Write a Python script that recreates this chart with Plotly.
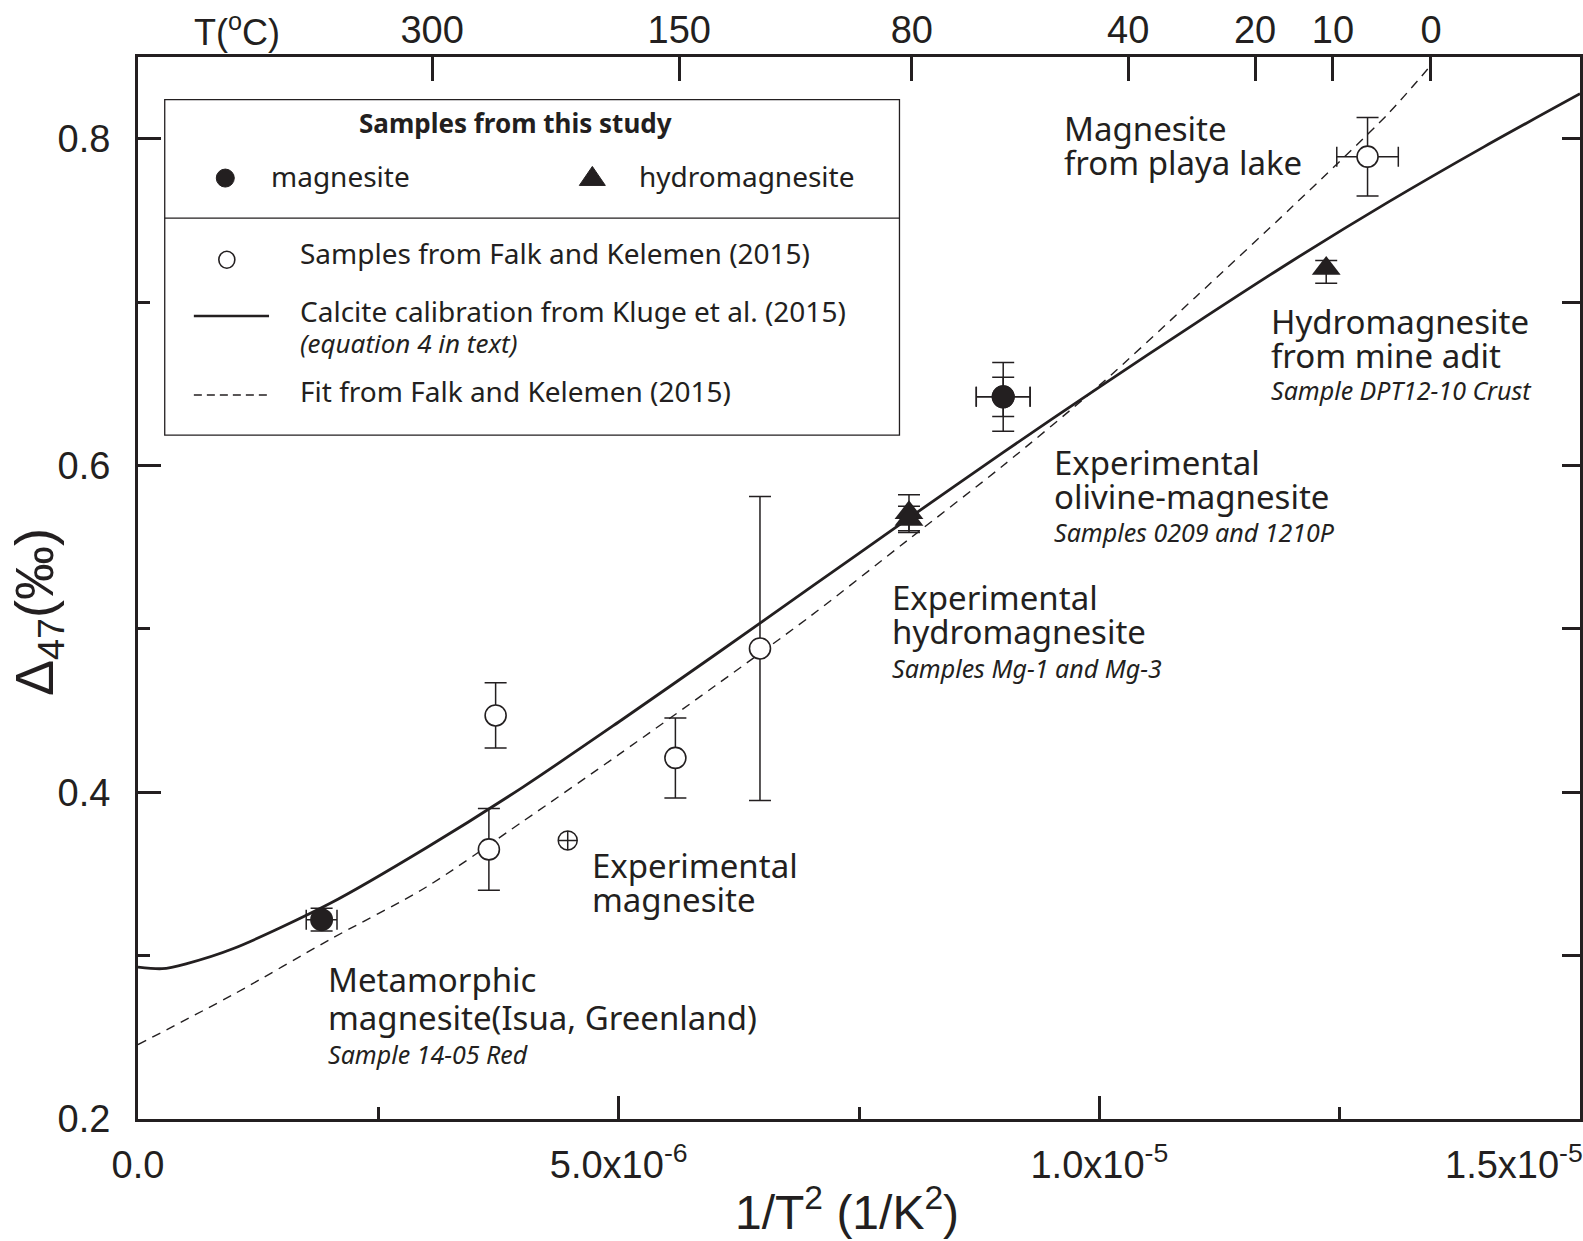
import plotly.graph_objects as go

# ---------------- data (x in 1/K^2, y = Delta47 in permil) ----------------
# Calcite calibration, Kluge et al. (2015) - solid curve
kluge_x = [0, 0.25e-6, 0.5e-6, 1e-6, 2e-6, 3e-6, 4e-6, 5e-6, 6e-6, 7e-6, 8e-6,
           9e-6, 10e-6, 11e-6, 12e-6, 13e-6, 14e-6, 15e-6]
kluge_y = [0.293, 0.292, 0.295, 0.3045, 0.332, 0.366, 0.403, 0.443, 0.484, 0.5255,
           0.567, 0.608, 0.648, 0.687, 0.725, 0.761, 0.795, 0.8275]

# Fit from Falk and Kelemen (2015) - dashed curve
falk_fit_x = [0, 1e-6, 2e-6, 3e-6, 4e-6, 5e-6, 6e-6, 7e-6, 8e-6, 9e-6, 10e-6,
              11e-6, 12e-6, 13e-6, 13.45e-6]
falk_fit_y = [0.2455, 0.2765, 0.310, 0.342, 0.382, 0.423, 0.465, 0.508, 0.554,
              0.600, 0.649, 0.703, 0.758, 0.815, 0.845]

# Samples from Falk and Kelemen (2015) - open circles
falk_x = [3.72e-6, 3.65e-6, 5.59e-6, 6.47e-6, 12.79e-6]
falk_y = [0.447, 0.365, 0.421, 0.488, 0.789]
falk_yerr = [0.020, 0.025, 0.0245, 0.093, 0.024]
falk_xerr = [None, None, None, None, 0.32e-6]

# Experimental magnesite (crossed circle)
expmag_x = [4.47e-6]
expmag_y = [0.3705]

# This study: magnesite (filled circles)
mag_x = [1.91e-6, 9.00e-6, 9.00e-6]
mag_y = [0.322, 0.642, 0.642]
mag_yerr = [0.007, 0.021, 0.012]
mag_xerr = [0.16e-6, 0.28e-6, 0.28e-6]

# This study: hydromagnesite (filled triangles)
hmg_x = [8.02e-6, 8.02e-6, 12.36e-6]
hmg_y = [0.571, 0.567, 0.7205]
hmg_yerr_plus = [0.011, 0.008, 0.005]
hmg_yerr_minus = [0.011, 0.008, 0.009]

# Axis ticks (last bottom label is drawn right-aligned at the frame edge)
bottom_tickvals = [0, 5e-6, 1e-5, 1.5e-5]
bottom_ticktext = ["0.0", "5.0x10<sup>-6</sup>", "1.0x10<sup>-5</sup>", ""]
bottom_last_label = "1.5x10<sup>-5</sup>"
bottom_minor = [2.5e-6, 7.5e-6, 12.5e-6]
left_tickvals = [0.2, 0.4, 0.6, 0.8]
left_ticktext = ["0.2", "0.4", "0.6", "0.8"]
left_minor = [0.3, 0.5, 0.7]
right_tickvals = [0.3, 0.4, 0.5, 0.6, 0.7, 0.8]
top_labels = ["300", "150", "80", "40", "20", "10", "0"]
top_tickvals = [3.06e-6, 5.63e-6, 8.05e-6, 10.30e-6, 11.62e-6, 12.43e-6, 13.45e-6]

# ---------------- styles ----------------
INK = "#231f20"
TICKFONT = dict(family="Liberation Sans, Arial, sans-serif", size=38, color=INK)
TXT = "Noto Sans, Open Sans, sans-serif"
XR = [0, 1.5e-5]
YR = [0.2, 0.85]

fig = go.Figure()

fig.add_trace(go.Scatter(x=kluge_x, y=kluge_y, mode="lines",
                         line=dict(color=INK, width=2.8, shape="spline", smoothing=0.8),
                         hoverinfo="skip"))
fig.add_trace(go.Scatter(x=falk_fit_x, y=falk_fit_y, mode="lines",
                         line=dict(color=INK, width=1.4, dash="9px,7px", shape="spline",
                                   smoothing=0.8),
                         hoverinfo="skip"))

eb = dict(color=INK, thickness=1.5)
fig.add_trace(go.Scatter(
    x=falk_x, y=falk_y, mode="markers",
    marker=dict(symbol="circle", size=21, color="white", line=dict(color=INK, width=1.6)),
    error_y=dict(type="data", array=falk_yerr, width=11, **eb),
    error_x=dict(type="data", array=falk_xerr, width=10, **eb)))
fig.add_trace(go.Scatter(
    x=expmag_x, y=expmag_y, mode="markers",
    marker=dict(symbol="circle-cross-open", size=19, color=INK, line=dict(color=INK, width=1.5))))
fig.add_trace(go.Scatter(
    x=mag_x, y=mag_y, mode="markers",
    marker=dict(symbol="circle", size=23, color=INK),
    error_y=dict(type="data", array=mag_yerr, width=11, **eb),
    error_x=dict(type="data", array=mag_xerr, width=10, **eb)))
fig.add_trace(go.Scatter(
    x=hmg_x, y=hmg_y, mode="markers",
    marker=dict(symbol="triangle-up", size=25, color=INK),
    error_y=dict(type="data", array=hmg_yerr_plus, arrayminus=hmg_yerr_minus, width=11, **eb)))
# helper trace for secondary (top/right) axes
fig.add_trace(go.Scatter(x=[], y=[], xaxis="x2", yaxis="y2", hoverinfo="skip"))

# ---------------- annotations ----------------
ann = []


def label(x, y, text, size=33, xanchor="left", xref="x", yref="y", font=TXT, angle=0):
    ann.append(dict(x=x, y=y, xref=xref, yref=yref, text=text, showarrow=False,
                    xanchor=xanchor, yanchor="middle", textangle=angle,
                    font=dict(family=font, size=size, color=INK)))


label(9.61e-6, 0.8061, "Magnesite")
label(9.61e-6, 0.7856, "from playa lake")
label(11.77e-6, 0.6879, "Hydromagnesite")
label(11.77e-6, 0.6670, "from mine adit")
label(11.77e-6, 0.6462, "<i>Sample DPT12-10 Crust</i>", size=25)
label(9.51e-6, 0.6021, "Experimental")
label(9.51e-6, 0.5813, "olivine-magnesite")
label(9.51e-6, 0.5592, "<i>Samples 0209 and 1210P</i>", size=25)
label(7.82e-6, 0.5194, "Experimental")
label(7.82e-6, 0.4985, "hydromagnesite")
label(7.82e-6, 0.4759, "<i>Samples Mg-1 and Mg-3</i>", size=25)
label(4.70e-6, 0.3551, "Experimental")
label(4.70e-6, 0.3346, "magnesite")
label(1.96e-6, 0.2853, "Metamorphic")
label(1.96e-6, 0.2620, "magnesite(Isua, Greenland)")
label(1.96e-6, 0.2400, "<i>Sample 14-05 Red</i>", size=25)

# legend text
label(3.925e-6, 0.8095, "<b>Samples from this study</b>", size=26, xanchor="center")
label(1.363e-6, 0.7769, "magnesite", size=28)
label(5.195e-6, 0.7769, "hydromagnesite", size=28)
label(1.665e-6, 0.7299, "Samples from Falk and Kelemen (2015)", size=28)
label(1.665e-6, 0.6944, "Calcite calibration from Kluge et al. (2015)", size=28)
label(1.665e-6, 0.6748, "<i>(equation 4 in text)</i>", size=26)
label(1.665e-6, 0.6454, "Fit from Falk and Kelemen (2015)", size=28)

# axis titles
AXF = "Liberation Sans, Arial, sans-serif"
label(-0.0693, 0.4774, "Δ<sub>47</sub>(‰)", size=54, xanchor="center",
      xref="paper", yref="paper", font=AXF, angle=-90)
label(0.4916, -0.0845, "1/T<sup>2</sup> (1/K<sup>2</sup>)", size=48, xanchor="center",
      xref="paper", yref="paper", font=AXF)
label(0.0688, 1.0255, "T(<sup>o</sup>C)", size=36, xanchor="center",
      xref="paper", yref="paper", font=AXF)
# last bottom tick label, pushed against the right edge as in the original
label(1.0035, -0.0405, bottom_last_label, size=38, xanchor="right",
      xref="paper", yref="paper", font=AXF)

# ---------------- legend box (shapes) ----------------
shapes = [
    dict(type="rect", xref="x", yref="y", x0=0.278e-6, x1=7.921e-6, y0=0.6186, y1=0.8239,
         line=dict(color=INK, width=1.3)),
    dict(type="line", xref="x", yref="y", x0=0.278e-6, x1=7.921e-6, y0=0.7514, y1=0.7514,
         line=dict(color=INK, width=1.3)),
    dict(type="line", xref="x", yref="y", x0=0.581e-6, x1=1.363e-6, y0=0.6915, y1=0.6915,
         line=dict(color=INK, width=2.6)),
    dict(type="line", xref="x", yref="y", x0=0.581e-6, x1=1.363e-6, y0=0.6431, y1=0.6431,
         line=dict(color=INK, width=1.5, dash="8px,5px")),
    dict(type="circle", xref="x", yref="y", xsizemode="pixel", ysizemode="pixel",
         xanchor=0.908e-6, yanchor=0.7759, x0=-9, x1=9, y0=-9, y1=9,
         fillcolor=INK, line=dict(color=INK, width=1)),
    dict(type="path", xref="x", yref="y", xsizemode="pixel", ysizemode="pixel",
         xanchor=4.726e-6, yanchor=0.7769, path="M -13,-9 L 13,-9 L 0,10 Z",
         fillcolor=INK, line=dict(color=INK, width=1)),
    dict(type="circle", xref="x", yref="y", xsizemode="pixel", ysizemode="pixel",
         xanchor=0.924e-6, yanchor=0.7259, x0=-8, x1=8, y0=-8.5, y1=8.5,
         fillcolor="white", line=dict(color=INK, width=1.6)),
]

fig.update_layout(
    width=1583, height=1241,
    margin=dict(l=138, r=3, t=57, b=122, autoexpand=False),
    paper_bgcolor="white", plot_bgcolor="white",
    showlegend=False,
    annotations=ann, shapes=shapes,
    xaxis=dict(range=XR, showgrid=False, zeroline=False, showline=True, automargin=False,
               linecolor=INK, linewidth=3, ticks="inside", ticklen=23, tickwidth=3,
               tickcolor=INK, tickmode="array", tickvals=bottom_tickvals,
               ticktext=bottom_ticktext, tickfont=TICKFONT, ticklabelstandoff=10,
               minor=dict(tickvals=bottom_minor, ticks="inside", ticklen=12,
                          tickwidth=3, tickcolor=INK, showgrid=False)),
    yaxis=dict(range=YR, showgrid=False, zeroline=False, showline=True, automargin=False,
               linecolor=INK, linewidth=3, ticks="inside", ticklen=23, tickwidth=3,
               tickcolor=INK, tickmode="array", tickvals=left_tickvals,
               ticktext=left_ticktext, tickfont=TICKFONT, ticklabelstandoff=17,
               minor=dict(tickvals=left_minor, ticks="inside", ticklen=12,
                          tickwidth=3, tickcolor=INK, showgrid=False)),
    xaxis2=dict(range=XR, overlaying="x", side="top", anchor="y", showgrid=False,
                automargin=False,
                zeroline=False, showline=True, linecolor=INK, linewidth=3,
                ticks="inside", ticklen=24, tickwidth=3, tickcolor=INK,
                tickmode="array", tickvals=top_tickvals, ticktext=top_labels,
                tickfont=TICKFONT, ticklabelstandoff=-4),
    yaxis2=dict(range=YR, overlaying="y", side="right", anchor="x", showgrid=False,
                automargin=False,
                zeroline=False, showline=True, linecolor=INK, linewidth=3,
                ticks="inside", ticklen=18, tickwidth=3, tickcolor=INK,
                tickmode="array", tickvals=right_tickvals, showticklabels=False),
)

# remove the default page margin so the 1583x1241 figure fills the window exactly
fig.write_html("out.html", config={"displayModeBar": False},
               post_script="document.body.style.margin='0px';"
                           "document.body.style.overflow='hidden';")
